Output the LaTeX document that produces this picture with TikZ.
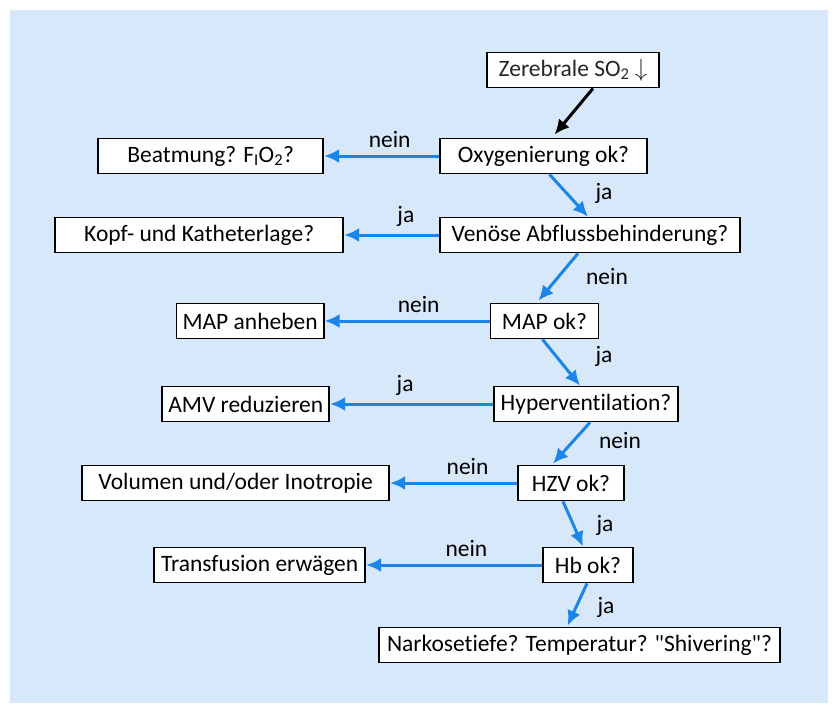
\documentclass[tikz,border=0pt]{standalone}
\usepackage{fontspec}
\setmainfont{Carlito}[Ligatures={TeXOff,NoCommon}]
\usetikzlibrary{arrows.meta, positioning}

\definecolor{bgblue}{RGB}{214,232,250}
\definecolor{arrowblue}{RGB}{28,133,232}

\begin{document}
\begin{tikzpicture}[
        x=1pt, y=-1pt,
        >=Latex,
        font=\fontsize{23.5}{27}\selectfont,
        box/.style={rectangle, draw=black, line width=1.8pt, fill=white, align=center, inner xsep=6pt, inner ysep=0pt, minimum height=35pt},
        line/.style={-{Latex[length=15pt, width=14pt]}, line width=3pt, draw=arrowblue},
        lbl/.style={inner sep=1pt}
    ]
        \useasboundingbox (0,0) rectangle (835,713);
        \fill[bgblue] (10,10) rectangle (828,703);

        % main column
        \node[box, minimum width=172pt, text=black!85] (zere) at (573,70) {Zerebrale SO\textsubscript{2} $\downarrow$};
        \node[box, minimum width=207pt] (oxy) at (543.5,156) {Oxygenierung ok?};
        \node[box, minimum width=300pt] (ven) at (590,235) {Venöse Abflussbehinderung?};
        \node[box, minimum width=108pt] (map) at (544.5,321) {MAP ok?};
        \node[box, minimum width=184pt] (hyp) at (586,404) {Hyperventilation?};
        \node[box, minimum width=106pt] (hzv) at (571,483) {HZV ok?};
        \node[box, minimum width=90pt] (hb) at (588,565) {Hb ok?};
        \node[box, minimum width=401pt] (nark) at (579.5,645) {Narkosetiefe? Temperatur? "Shivering"?};

        % left column
        \node[box, minimum width=225pt, left=115pt of oxy] (beat) {Beatmung? F\textsubscript{I}O\textsubscript{2}?};
        \node[box, minimum width=288pt, left=95pt of ven] (kopf) {Kopf- und Katheterlage?};
        \node[box, minimum width=147pt, left=165pt of map] (mapup) {MAP anheben};
        \node[box, minimum width=165pt, left=163pt of hyp] (amv) {AMV reduzieren};
        \node[box, minimum width=307pt, left=127pt of hzv] (vol) {Volumen und/oder Inotropie};
        \node[box, minimum width=211pt, left=176pt of hb] (trans) {Transfusion erwägen};

        \draw[line, draw=black] ([xshift=20pt]zere.south) -- ([xshift=11pt, yshift=3pt]oxy.north);
        \draw[line] ([xshift=6pt]oxy.south) -- ([xshift=-2pt]ven.north);
        \draw[line] ([xshift=-12pt]ven.south) -- ([xshift=-6pt, yshift=2pt]map.north);
        \draw[line] ([xshift=-2pt]map.south) -- ([xshift=-6pt]hyp.north);
        \draw[line] ([xshift=4pt]hyp.south) -- ([xshift=-18pt, yshift=1pt]hzv.north);
        \draw[line] ([xshift=-8pt]hzv.south) -- ([xshift=-5pt]hb.north);
        \draw[line] ([xshift=-1pt]hb.south) -- ([xshift=-12pt, yshift=1pt]nark.north);

        \draw[line] (oxy) -- node[lbl, pos=0.43, above=6pt] (l1) {nein} (beat);
        \draw[line] (ven) -- node[lbl, pos=0.35, above=6pt] (l2) {ja} (kopf);
        \draw[line] (map) -- node[lbl, pos=0.43, above=6pt] (l3) {nein} (mapup);
        \draw[line] (hyp) -- node[lbl, pos=0.54, above=6pt] (l4) {ja} (amv);
        \draw[line] (hzv) -- node[lbl, pos=0.39, above=6pt] (l5) {nein} (vol);
        \draw[line] (hb) -- node[lbl, pos=0.43, above=6pt] (l6) {nein} (trans);

        \node[lbl] (l7) at (604,193) {ja};
        \node[lbl] (l8) at (607,276) {nein};
        \node[lbl] (l9) at (604,356) {ja};
        \node[lbl] (l10) at (620,440) {nein};
        \node[lbl] (l11) at (605,525) {ja};
        \node[lbl] (l12) at (606,607) {ja};
    \end{tikzpicture}
\end{document}
